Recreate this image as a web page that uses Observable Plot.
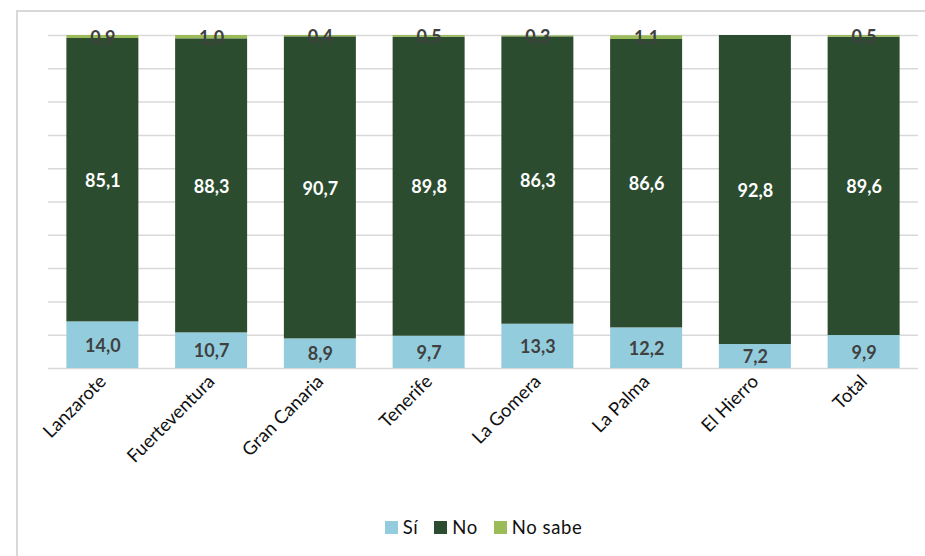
<!DOCTYPE html>
<html>
<head>
<meta charset="utf-8">
<script src="https://cdn.jsdelivr.net/npm/d3@7"></script>
<script src="https://cdn.jsdelivr.net/npm/@observablehq/plot@0.6"></script>
<style>
  html, body { margin: 0; padding: 0; background: #fff; }
  body { width: 925px; height: 556px; position: relative; overflow: hidden; font-family: Lato, "Open Sans", sans-serif; }
  #frame { position: absolute; left: 16px; top: 10px; width: 930px; height: 560px; border-top: 2px solid #d9d9d9; border-left: 2px solid #d9d9d9; box-sizing: border-box; }
  #chart { position: absolute; left: 0; top: 0; }
  #legend { position: absolute; left: 0; width: 925px; top: 515px; display: flex; justify-content: center; gap: 16px; font-size: 18.5px; letter-spacing: 0.6px; color: #111; padding-left: 42px; box-sizing: border-box; line-height: 24px; }
  #legend span.item { display: flex; align-items: center; gap: 5px; }
  #legend span.sw { display: inline-block; width: 13px; height: 13px; }
</style>
</head>
<body>
<div id="frame"></div>
<div id="chart"></div>
<div id="legend"></div>
<script>
const islands = ["Lanzarote", "Fuerteventura", "Gran Canaria", "Tenerife", "La Gomera", "La Palma", "El Hierro", "Total"];
const series = ["Sí", "No", "No sabe"];
const si = [14.0, 10.7, 8.9, 9.7, 13.3, 12.2, 7.2, 9.9];
const no = [85.1, 88.3, 90.7, 89.8, 86.3, 86.6, 92.8, 89.6];
const noSabe = [0.9, 1.0, 0.4, 0.5, 0.3, 1.1, 0.0, 0.5];
const colors = ["#93cddd", "#2b4c2f", "#9bbb59"];
const labelColors = ["#404040", "#ffffff", "#404040"];
const gridTicks = d3.range(0, 101, 10);

const valuesBySeries = [si, no, noSabe];
const data = [];
islands.forEach((isl, i) => {
  series.forEach((s, k) => {
    data.push({island: isl, series: s, value: valuesBySeries[k][i], k});
  });
});
const shown = data.filter(d => d.value > 0);
const fmt = v => d3.format(".1f")(v).replace(".", ",");

const chart = Plot.plot({
  width: 925,
  height: 505,
  marginTop: 35,
  marginBottom: 137,
  marginLeft: 48,
  marginRight: 7,
  style: {fontFamily: "Lato, 'Open Sans', sans-serif", background: "transparent"},
  x: {domain: islands, paddingInner: 0.338, paddingOuter: 0.169, round: false, label: null},
  y: {domain: [0, 100], axis: null},
  color: {domain: series, range: colors},
  marks: [
    Plot.ruleY(gridTicks, {stroke: "#d9d9d9", strokeWidth: 1.5}),
    Plot.barY(shown, {x: "island", y: "value", z: "series", fill: "series"}),
    Plot.text(shown, Plot.stackY({
      x: "island", y: "value", z: "series",
      text: d => fmt(d.value),
      fill: d => labelColors[d.k],
      fontWeight: "bold", fontSize: 18, dy: 1
    })),
    Plot.axisX({tickRotate: -45, tickSize: 0, tickPadding: 10, fontSize: 18.5, fill: "#111", label: null})
  ]
});
document.getElementById("chart").appendChild(chart);

const legend = document.getElementById("legend");
series.forEach((s, k) => {
  const item = document.createElement("span");
  item.className = "item";
  const sw = document.createElement("span");
  sw.className = "sw";
  sw.style.background = colors[k];
  item.appendChild(sw);
  item.appendChild(document.createTextNode(s));
  legend.appendChild(item);
});
</script>
</body>
</html>
